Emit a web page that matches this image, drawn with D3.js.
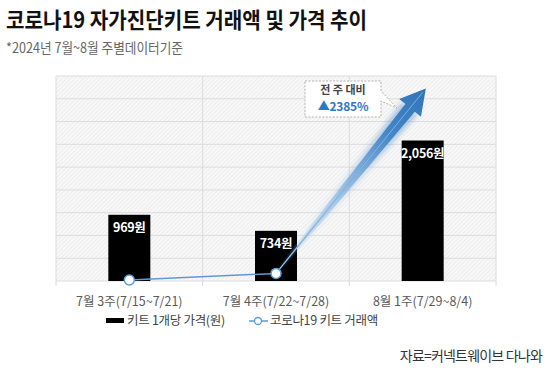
<!DOCTYPE html>
<html><head><meta charset="utf-8">
<script src="https://cdn.jsdelivr.net/npm/d3@7"></script>
<style>
html,body{margin:0;padding:0;background:#fff;}
svg{display:block;font-family:"Noto Sans CJK KR","Noto Sans",sans-serif;}
</style></head>
<body>
<svg id="c" width="550" height="372"></svg>
<script>
const categories = ["7월 3주(7/15~7/21)", "7월 4주(7/22~7/28)", "8월 1주(7/29~8/4)"];
const priceValues = [969, 734, 2056];          // 키트 1개당 가격(원)
const priceLabels = ["969원", "734원", "2,056원"];
const volumeIndex = [13, 100, 2485];           // 코로나19 키트 거래액 (전주=100 기준 추정)
const gridTicks = [0, 333, 667, 1000, 1333, 1667, 2000, 2333, 2667, 3000];
const title = "코로나19 자가진단키트 거래액 및 가격 추이";
const subtitle = "*2024년 7월~8월 주별데이터기준";
const source = "자료=커넥트웨이브 다나와";
const calloutLines = ["전 주 대비", "▲2385%"];
const legendItems = ["키트 1개당 가격(원)", "코로나19 키트 거래액"];

const svg = d3.select("#c");
const P = {l: 56, r: 496, t: 76, b: 281};
const x = d3.scaleBand().domain(categories).range([P.l, P.r]);
const y = d3.scaleLinear().domain([0, 3000]).range([P.b, P.t]);
const y2 = d3.scaleLinear().domain([0, 2700]).range([P.b, P.t]);
const blue = "#5b9bd5";

const defs = svg.append("defs");
const pat = defs.append("pattern").attr("id","hatch").attr("patternUnits","userSpaceOnUse")
  .attr("width",3).attr("height",3).attr("patternTransform","rotate(45)");
pat.append("rect").attr("width",3).attr("height",3).attr("fill","#f8f8f8");
pat.append("line").attr("x1",0).attr("y1",0).attr("x2",0).attr("y2",3).attr("stroke","#e6e6e6").attr("stroke-width",1.2);

// title
svg.append("text").attr("x",6).attr("y",28).attr("font-size",22).attr("font-weight",700)
  .attr("fill","#111").attr("textLength",361).attr("lengthAdjust","spacingAndGlyphs").text(title);
svg.append("text").attr("x",6).attr("y",53).attr("font-size",14).attr("fill","#666")
  .attr("textLength",177).attr("lengthAdjust","spacingAndGlyphs").text(subtitle);

// plot background
svg.append("rect").attr("x",P.l).attr("y",P.t).attr("width",P.r-P.l).attr("height",P.b-P.t).attr("fill","url(#hatch)");
svg.append("g").selectAll("line").data(gridTicks).join("line")
  .attr("x1",P.l).attr("x2",P.r).attr("y1",d=>y(d)).attr("y2",d=>y(d))
  .attr("stroke","#dcdcdc").attr("stroke-width",1);
const bounds = categories.map(c=>x(c)).concat([P.r]);
svg.append("g").selectAll("line").data(bounds).join("line")
  .attr("x1",d=>d).attr("x2",d=>d).attr("y1",P.t).attr("y2",P.b+5)
  .attr("stroke","#dcdcdc").attr("stroke-width",1);

// bars
const bw = 42;
svg.append("g").selectAll("rect").data(priceValues).join("rect")
  .attr("x",(d,i)=>x(categories[i])+x.bandwidth()/2-bw/2).attr("width",bw)
  .attr("y",d=>y(d)).attr("height",d=>P.b-y(d)).attr("fill","#000");
svg.append("g").selectAll("text").data(priceValues).join("text")
  .attr("x",(d,i)=>x(categories[i])+x.bandwidth()/2).attr("y",d=>y(d)+17)
  .attr("text-anchor","middle").attr("font-size",12.5).attr("font-weight",700).attr("fill","#fff")
  .attr("letter-spacing",-0.3).text((d,i)=>priceLabels[i]);

// x labels
const ax = svg.append("g").attr("transform",`translate(0,${P.b})`).call(d3.axisBottom(x).tickSize(0).tickPadding(16));
ax.select(".domain").remove();
ax.selectAll("text").attr("font-size",12.5).attr("fill","#5a5a5a")
  .attr("font-family","'Noto Sans CJK KR',sans-serif");

// line
const pts = volumeIndex.map((v,i)=>[x(categories[i])+x.bandwidth()/2, y2(v)]);
svg.append("path").attr("d",d3.line()(pts)).attr("fill","none").attr("stroke",blue).attr("stroke-width",1.5);

// arrow (from point 2 to point 3)
const [ax0, ay0] = pts[1], [ax1, ay1] = pts[2];
const dx = ax1-ax0, dy = ay1-ay0, L = Math.hypot(dx,dy);
const ux = dx/L, uy = dy/L, nx = -uy, ny = ux;
const tip = [ax1+ux*5, ay1+uy*5];
const headLen = 25, headW = 14, shaftTop = 6, shaftBot = 2;
const hb = [tip[0]-ux*headLen, tip[1]-uy*headLen];
const st = [ax0+ux*4, ay0+uy*4];
const grad = defs.append("linearGradient").attr("id","ag").attr("gradientUnits","userSpaceOnUse")
  .attr("x1",st[0]).attr("y1",st[1]).attr("x2",tip[0]).attr("y2",tip[1]);
grad.append("stop").attr("offset",0).attr("stop-color","#9fc3e6").attr("stop-opacity",0);
grad.append("stop").attr("offset",0.35).attr("stop-color","#8cb8e2").attr("stop-opacity",0.55);
grad.append("stop").attr("offset",0.75).attr("stop-color","#3f83c6").attr("stop-opacity",0.95);
grad.append("stop").attr("offset",1).attr("stop-color","#2f73b8").attr("stop-opacity",1);
const poly = [
  [st[0]+nx*shaftBot, st[1]+ny*shaftBot],
  [hb[0]+nx*shaftTop, hb[1]+ny*shaftTop],
  [hb[0]+nx*headW, hb[1]+ny*headW],
  tip,
  [hb[0]-nx*headW, hb[1]-ny*headW],
  [hb[0]-nx*shaftTop, hb[1]-ny*shaftTop],
  [st[0]-nx*shaftBot, st[1]-ny*shaftBot]
];
const blur = defs.append("filter").attr("id","bl").attr("x","-20%").attr("y","-20%").attr("width","140%").attr("height","140%");
blur.append("feGaussianBlur").attr("stdDeviation",2.5);
const glowPoly = [
  [st[0]+nx*2, st[1]+ny*2],[hb[0]+nx*10, hb[1]+ny*10],[hb[0]-nx*10, hb[1]-ny*10],[st[0]-nx*2, st[1]-ny*2]];
svg.append("path").attr("d",d3.line()(glowPoly)+"Z").attr("fill","url(#ag)").attr("opacity",0.4).attr("filter","url(#bl)");
svg.append("path").attr("d",d3.line()(poly)+"Z").attr("fill","url(#ag)");
svg.append("path").attr("d",d3.line()([pts[1],pts[2]])).attr("stroke","#bcd6ef").attr("stroke-width",0.8).attr("opacity",0.7);

// markers for visible points
svg.append("g").selectAll("circle").data(pts.slice(0,2)).join("circle")
  .attr("cx",d=>d[0]).attr("cy",d=>d[1]).attr("r",5)
  .attr("fill","#fff").attr("stroke",blue).attr("stroke-width",1.5);

// callout
const cx0 = 305, cy0 = 81, cw = 76, ch = 36;
const tailTip = [cx0+cw+16, cy0+27];
svg.append("path")
  .attr("d",`M${cx0},${cy0}H${cx0+cw}V${cy0+10}L${tailTip[0]},${tailTip[1]}L${cx0+cw},${cy0+20}V${cy0+ch}H${cx0}Z`)
  .attr("fill","#fff").attr("stroke","#aaa").attr("stroke-dasharray","2,1.5").attr("stroke-width",0.9);
svg.append("text").attr("x",cx0+cw/2).attr("y",cy0+13).attr("text-anchor","middle")
  .attr("font-size",11).attr("font-weight",700).attr("fill","#444").text(calloutLines[0]);
svg.append("text").attr("x",cx0+cw/2).attr("y",cy0+30).attr("text-anchor","middle")
  .attr("font-size",12).attr("font-weight",700).attr("fill","#2e78bf").attr("letter-spacing",-0.2).text(calloutLines[1]);

// legend
const lg = svg.append("g");
lg.append("rect").attr("x",106).attr("y",318).attr("width",18).attr("height",5).attr("fill","#000");
lg.append("text").attr("x",127).attr("y",325).attr("font-size",12.5).attr("fill","#444").attr("letter-spacing",-0.3).text(legendItems[0]);
lg.append("line").attr("x1",249).attr("x2",268).attr("y1",321).attr("y2",321).attr("stroke",blue).attr("stroke-width",1.5);
lg.append("circle").attr("cx",258).attr("cy",321).attr("r",3.5).attr("fill","#fff").attr("stroke",blue).attr("stroke-width",1.3);
lg.append("text").attr("x",270).attr("y",325).attr("font-size",12.5).attr("fill","#444").attr("letter-spacing",-0.3).text(legendItems[1]);

// source
svg.append("text").attr("x",542).attr("y",361).attr("text-anchor","end").attr("font-size",14).attr("fill","#333")
  .attr("letter-spacing",-0.8).text(source);
</script>
</body></html>
